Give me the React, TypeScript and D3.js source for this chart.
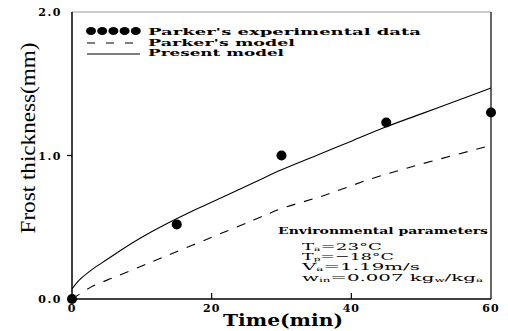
import React from "react";
import * as d3 from "d3";

const modelTimes = [0, 1, 3, 5, 7, 10, 13, 18, 22, 26, 30, 35, 40, 45, 50, 55, 60];
const presentModel = [0.07, 0.13, 0.21, 0.275, 0.34, 0.43, 0.51, 0.63, 0.72, 0.81, 0.9, 1.0, 1.1, 1.2, 1.29, 1.38, 1.47];
const parkerTimes = [0, 3, 6, 10, 13, 20, 26, 30, 36, 43, 50, 60];
const parkerModel = [0.0, 0.09, 0.15, 0.23, 0.29, 0.43, 0.55, 0.63, 0.72, 0.84, 0.94, 1.07];
const expTimes = [0, 15, 30, 45, 60];
const expValues = [0.0, 0.52, 1.0, 1.23, 1.3];
const xTicks = [0, 20, 40, 60];
const yTicks = [0, 1, 2];
const legendLabels = ["Parker's experimental data", "Parker's model", "Present model"];

const W = 508;
const H = 331;
const L = 72, R = 491, T = 12, B = 299;

export default function App() {
  const x = d3.scaleLinear().domain([0, 60]).range([L, R]);
  const y = d3.scaleLinear().domain([0, 2]).range([B, T]);
  const line = d3.line<[number, number]>().x(d => x(d[0])).y(d => y(d[1])).curve(d3.curveCatmullRom.alpha(0.5));
  const presentPath = line(modelTimes.map((t, i) => [t, presentModel[i]]) as [number, number][]) || "";
  const parkerPath = line(parkerTimes.map((t, i) => [t, parkerModel[i]]) as [number, number][]) || "";
  const bold = { fontFamily: "'DejaVu Serif', serif", fontWeight: "bold" as const };
  const envFont = { fontFamily: "'DejaVu Serif', serif", fontSize: 10 };
  return (
    <svg width={W} height={H} style={{ position: "absolute", left: 0, top: 0, background: "#fff" }}>
      <rect width={W} height={H} fill="#fff" />
      {/* frame */}
      <line x1={L} y1={T} x2={R} y2={T} stroke="#999" strokeWidth={1} />
      <line x1={R} y1={T} x2={R} y2={B} stroke="#000" strokeWidth={1.2} />
      <line x1={L} y1={T} x2={L} y2={B} stroke="#000" strokeWidth={1.5} />
      <line x1={L} y1={B} x2={R} y2={B} stroke="#000" strokeWidth={1.5} />
      {/* ticks */}
      {yTicks.filter(v => v > 0 && v < 2).map(v => (
        <line key={"yt" + v} x1={L - 5} x2={L} y1={y(v)} y2={y(v)} stroke="#000" strokeWidth={1.2} />
      ))}
      {xTicks.filter(v => v > 0 && v < 60).map(v => (
        <line key={"xt" + v} x1={x(v)} x2={x(v)} y1={B} y2={B - 6} stroke="#000" strokeWidth={1.2} />
      ))}
      {yTicks.map(v => (
        <text key={"yl" + v} x={62} y={y(v) + 4} textAnchor="end" fontSize={11} letterSpacing={1.5} {...bold}>
          {v.toFixed(1)}
        </text>
      ))}
      {xTicks.map(v => (
        <text key={"xl" + v} x={x(v)} y={312} textAnchor="middle" fontSize={11} letterSpacing={1} {...bold}>
          {String(v)}
        </text>
      ))}
      {/* axis titles */}
      <text x={283} y={326} textAnchor="middle" fontSize={17} textLength={120} lengthAdjust="spacingAndGlyphs" {...bold}>
        Time(min)
      </text>
      <text transform="translate(35,138) rotate(-90)" textAnchor="middle" fontSize={22}
        fontFamily="'Liberation Serif', serif" textLength={191} lengthAdjust="spacingAndGlyphs">
        Frost thickness(mm)
      </text>
      {/* curves */}
      <path d={presentPath} fill="none" stroke="#000" strokeWidth={1.1} />
      <path d={parkerPath} fill="none" stroke="#000" strokeWidth={1.1} strokeDasharray="9,9" />
      {expTimes.map((t, i) => (
        <circle key={"p" + i} cx={x(t)} cy={y(expValues[i])} r={5} fill="#000" />
      ))}
      {/* legend */}
      {[0, 1, 2, 3, 4].map(k => (
        <ellipse key={"ld" + k} cx={91 + k * 11.2} cy={31} rx={5} ry={4} fill="#000" />
      ))}
      <line x1={87} x2={141} y1={43} y2={43} stroke="#000" strokeWidth={1.2} strokeDasharray="8,11" />
      <line x1={87} x2={140} y1={54} y2={54} stroke="#000" strokeWidth={1.2} />
      {legendLabels.map((s, i) => (
        <text key={"lg" + i} x={148} y={35 + i * 10.7} fontSize={10} {...bold}
          textLength={[273, 147, 136][i]} lengthAdjust="spacingAndGlyphs">
          {s}
        </text>
      ))}
      {/* environmental parameters */}
      <text x={278} y={234} fontSize={10} {...bold} textLength={210} lengthAdjust="spacingAndGlyphs">
        Environmental parameters
      </text>
      <text x={302} y={250} {...envFont} textLength={80} lengthAdjust="spacingAndGlyphs">
        T<tspan fontSize={6} dy={1}>a</tspan><tspan dy={-1}>=23°C</tspan>
      </text>
      <text x={302} y={260} {...envFont} textLength={92} lengthAdjust="spacingAndGlyphs">
        T<tspan fontSize={6} dy={1}>p</tspan><tspan dy={-1}>=−18°C</tspan>
      </text>
      <text x={302} y={270} {...envFont} textLength={118} lengthAdjust="spacingAndGlyphs">
        V<tspan fontSize={6} dy={1}>a</tspan><tspan dy={-1}>=1.19m/s</tspan>
      </text>
      <text x={302} y={281} {...envFont} textLength={181} lengthAdjust="spacingAndGlyphs">
        w<tspan fontSize={6} dy={1}>in</tspan><tspan dy={-1}>=0.007  kg</tspan><tspan fontSize={6} dy={1}>w</tspan><tspan dy={-1}>/kg</tspan><tspan fontSize={6} dy={1}>a</tspan>
      </text>
    </svg>
  );
}
